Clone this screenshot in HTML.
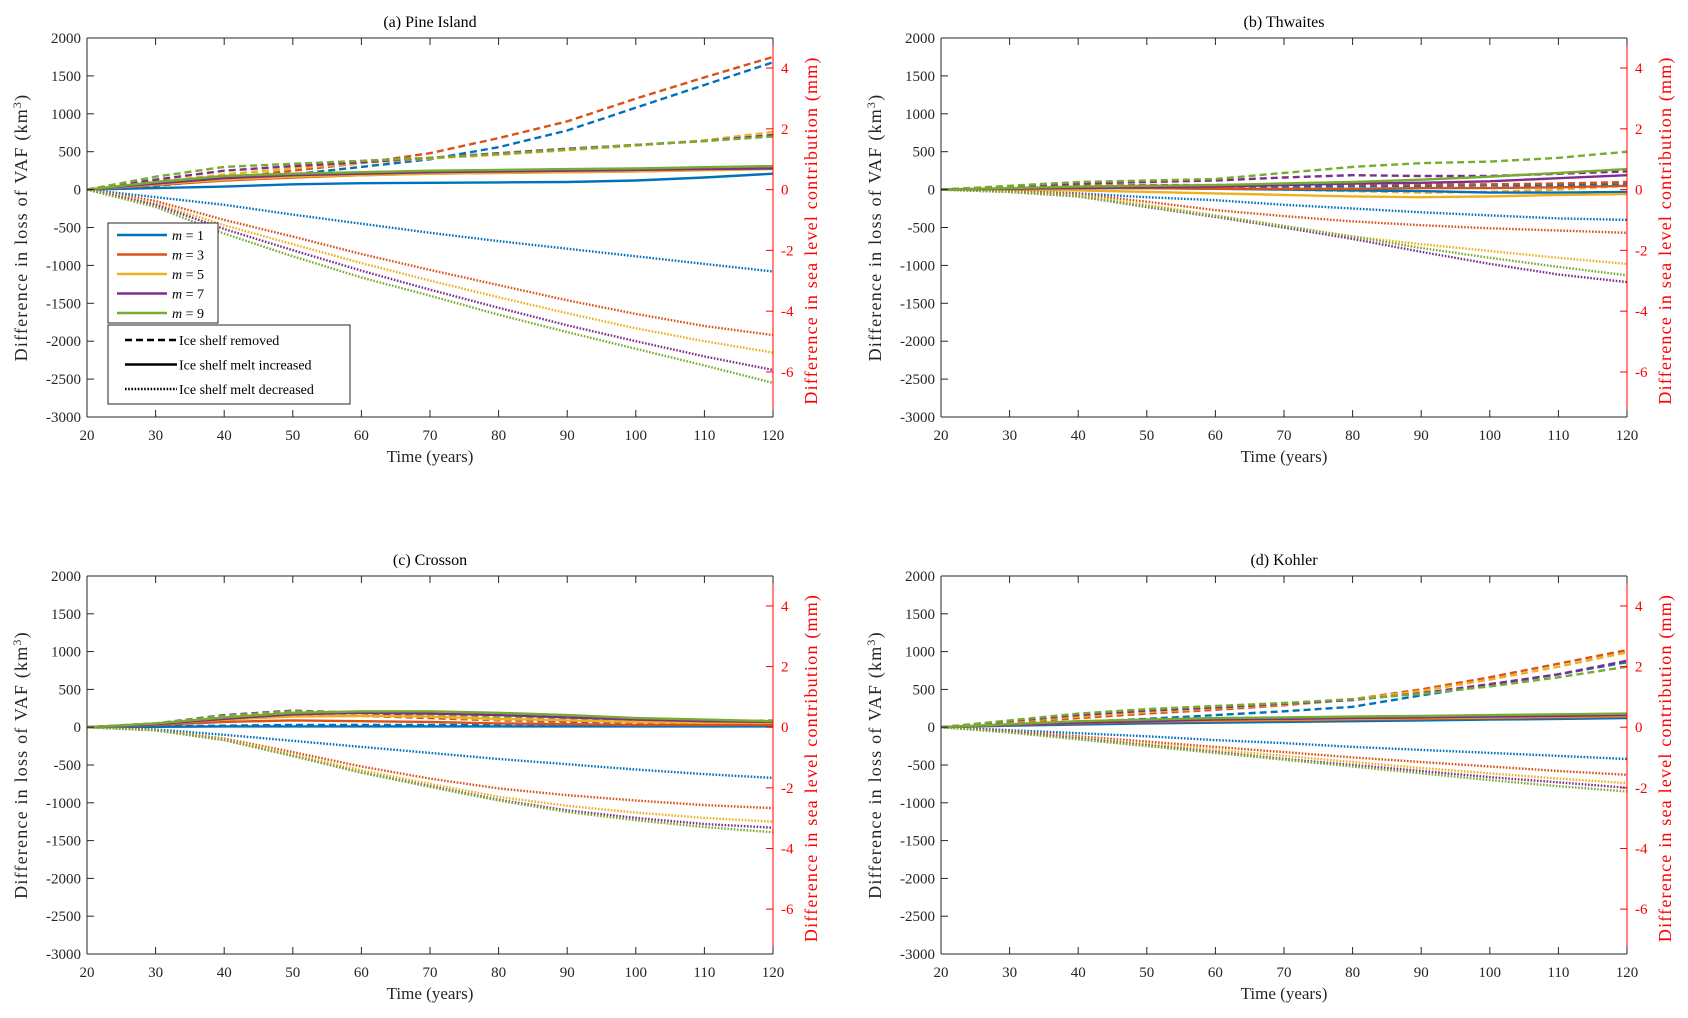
<!DOCTYPE html>
<html><head><meta charset="utf-8"><style>
body{margin:0;background:#fff;}
svg{display:block;font-family:"Liberation Serif",serif;}
</style></head><body>
<svg id="fig" width="1688" height="1018" viewBox="0 0 1688 1018" xmlns="http://www.w3.org/2000/svg"></svg>
<script>
const times=[20,30,40,50,60,70,80,90,100,110,120];
const mLabels=["m = 1","m = 3","m = 5","m = 7","m = 9"];
const xTicks=[20,30,40,50,60,70,80,90,100,110,120];
const yTicks=[-3000,-2500,-2000,-1500,-1000,-500,0,500,1000,1500,2000];
const rTicks=[-6,-4,-2,0,2,4];
const panelTitles=["(a) Pine Island","(b) Thwaites","(c) Crosson","(d) Kohler"];
// Pine Island
const pineRemoved=[[0,50,130,200,300,400,560,780,1080,1380,1680],[0,60,150,250,350,480,680,900,1200,1480,1750],[0,100,200,280,350,410,460,520,580,650,760],[0,130,250,310,360,420,480,540,590,640,720],[0,170,300,340,380,420,470,530,590,640,700]];
const pineIncreased=[[0,20,40,70,85,90,95,100,120,160,210],[0,60,120,160,190,210,220,230,240,260,280],[0,70,130,170,190,210,220,230,240,255,270],[0,80,150,190,210,230,240,250,260,270,280],[0,100,180,210,230,250,260,270,280,295,310]];
const pineDecreased=[[0,-100,-200,-330,-450,-570,-680,-780,-880,-980,-1080],[0,-150,-400,-620,-850,-1060,-1260,-1460,-1640,-1800,-1920],[0,-180,-470,-720,-970,-1200,-1420,-1630,-1830,-2000,-2150],[0,-200,-520,-800,-1070,-1320,-1560,-1790,-2000,-2200,-2380],[0,-230,-580,-880,-1160,-1400,-1650,-1880,-2100,-2320,-2550]];
// Thwaites
const thwRemoved=[[0,20,30,30,35,40,45,50,55,60,70],[0,30,50,60,60,70,70,70,70,80,100],[0,20,30,30,20,0,-20,-40,-30,0,50],[0,40,80,100,120,160,190,180,180,210,240],[0,50,100,120,140,220,300,350,370,420,500]];
const thwIncreased=[[0,10,20,20,10,0,-10,-20,-40,-40,-30],[0,10,20,20,10,10,10,20,20,30,50],[0,0,-10,-30,-50,-70,-90,-100,-90,-70,-60],[0,10,20,30,40,60,80,90,110,150,190],[0,20,40,50,60,80,100,130,170,220,270]];
const thwDecreased=[[0,-20,-50,-100,-140,-200,-250,-300,-340,-380,-400],[0,-20,-60,-160,-270,-350,-420,-470,-510,-540,-570],[0,-30,-80,-200,-340,-480,-620,-720,-810,-900,-980],[0,-30,-90,-230,-360,-500,-650,-820,-980,-1120,-1220],[0,-30,-90,-220,-350,-480,-620,-770,-900,-1020,-1130]];
// Crosson
const croRemoved=[[0,10,20,30,30,30,30,30,30,30,30],[0,30,100,150,150,120,90,70,60,60,60],[0,40,130,190,180,140,100,80,70,70,70],[0,50,160,220,190,150,110,80,70,70,80],[0,50,150,210,200,170,130,100,80,70,90]];
const croIncreased=[[0,5,10,10,10,10,10,10,10,10,10],[0,30,70,90,80,70,50,40,30,30,30],[0,40,100,140,150,140,110,90,70,60,60],[0,40,110,170,190,180,160,130,100,80,70],[0,50,130,190,210,210,190,160,120,100,80]];
const croDecreased=[[0,-30,-100,-180,-260,-340,-420,-490,-560,-620,-670],[0,-40,-150,-330,-520,-680,-810,-900,-970,-1030,-1070],[0,-40,-160,-360,-570,-750,-920,-1040,-1130,-1200,-1250],[0,-40,-170,-380,-600,-780,-960,-1100,-1200,-1280,-1330],[0,-40,-170,-380,-600,-790,-970,-1120,-1230,-1320,-1390]];
// Kohler
const kohRemoved=[[0,30,70,110,160,210,270,420,560,700,860],[0,60,120,180,230,290,370,500,660,840,1020],[0,70,140,200,250,300,370,480,630,800,990],[0,80,160,220,260,310,360,450,570,700,880],[0,90,180,240,280,320,370,440,540,660,800]];
const kohIncreased=[[0,20,35,50,60,70,80,90,100,110,120],[0,30,50,70,80,90,100,110,120,130,140],[0,30,60,80,90,100,110,120,130,140,150],[0,30,60,80,100,110,120,130,140,150,160],[0,40,80,100,120,130,140,150,160,170,180]];
const kohDecreased=[[0,-40,-80,-120,-170,-210,-260,-300,-340,-380,-420],[0,-50,-120,-190,-260,-330,-400,-460,-520,-580,-630],[0,-60,-140,-220,-300,-380,-460,-540,-610,-680,-740],[0,-60,-150,-240,-330,-420,-500,-580,-660,-730,-800],[0,-70,-160,-250,-340,-430,-520,-610,-700,-780,-850]];

const colors=["#0072BD","#D95319","#EDB120","#7E2F8E","#77AC30"];
const NS="http://www.w3.org/2000/svg";
const svg=document.getElementById('fig');
function mk(tag,attrs,parent){const e=document.createElementNS(NS,tag);for(const k in attrs)e.setAttribute(k,attrs[k]);(parent||svg).appendChild(e);return e;}
function txt(s,attrs,parent){const e=mk('text',attrs,parent);e.textContent=s;return e;}
const KM_PER_MM=401;
const panels=[
 {x0:87,x1:773,y0:38,y1:417,data:[pineRemoved,pineIncreased,pineDecreased],legend:true,slug:'pine-island'},
 {x0:941,x1:1627,y0:38,y1:417,data:[thwRemoved,thwIncreased,thwDecreased],slug:'thwaites'},
 {x0:87,x1:773,y0:576,y1:954,data:[croRemoved,croIncreased,croDecreased],slug:'crosson'},
 {x0:941,x1:1627,y0:576,y1:954,data:[kohRemoved,kohIncreased,kohDecreased],slug:'kohler'}];
const dashes=["7,4","","1.6,1.6"];
const scen=["removed","increased","decreased"];
panels.forEach((p,pi)=>{
 const g=mk('g',{});
 
 
 const X=t=>p.x0+(t-20)/100*(p.x1-p.x0);
 const Y=v=>p.y1-(v+3000)/5000*(p.y1-p.y0);
 const YR=mm=>Y(mm*KM_PER_MM);
 p.data.forEach((set,si)=>{
  set.forEach((vals,mi)=>{
   const pts=vals.map((v,i)=>X(times[i]).toFixed(1)+','+Y(v).toFixed(1)).join(' ');
   const l=mk('polyline',{points:pts,fill:'none',stroke:colors[mi],'stroke-width':2.4,'stroke-dasharray':dashes[si]},g);
   
   
  });
 });
 mk('line',{x1:p.x0,y1:p.y0,x2:p.x1,y2:p.y0,stroke:'#262626','stroke-width':1},g);
 mk('line',{x1:p.x0,y1:p.y1,x2:p.x1,y2:p.y1,stroke:'#262626','stroke-width':1},g);
 mk('line',{x1:p.x0,y1:p.y0,x2:p.x0,y2:p.y1,stroke:'#262626','stroke-width':1},g);
 mk('line',{x1:p.x1,y1:p.y0,x2:p.x1,y2:p.y1,stroke:'#ff0000','stroke-width':1},g);
 xTicks.forEach(t=>{
  const x=X(t);
  mk('line',{x1:x,y1:p.y1,x2:x,y2:p.y1-7,stroke:'#262626'},g);
  mk('line',{x1:x,y1:p.y0,x2:x,y2:p.y0+7,stroke:'#262626'},g);
  const e=txt(String(t),{x:x,y:p.y1+23,'text-anchor':'middle','font-size':15,fill:'#262626'},g);
  
 });
 yTicks.forEach(v=>{
  const y=Y(v);
  mk('line',{x1:p.x0,y1:y,x2:p.x0+7,y2:y,stroke:'#262626'},g);
  const e=txt(String(v),{x:p.x0-6,y:y+5,'text-anchor':'end','font-size':15,fill:'#262626'},g);
  
 });
 rTicks.forEach(v=>{
  const y=YR(v);
  mk('line',{x1:p.x1,y1:y,x2:p.x1-7,y2:y,stroke:'#ff0000'},g);
  const e=txt(String(v),{x:p.x1+8,y:y+5,'font-size':15,fill:'#ff0000'},g);
  
 });
 const cx=(p.x0+p.x1)/2;
 let e=txt(panelTitles[pi],{x:cx,y:p.y0-11,'text-anchor':'middle','font-size':16,fill:'#000'},g);
 
 e=txt('Time (years)',{x:cx,y:p.y1+45,'text-anchor':'middle','font-size':17,fill:'#262626'},g);
 
 const cy=(p.y0+p.y1)/2;
 e=mk('text',{x:0,y:0,transform:`translate(${p.x0-60},${cy}) rotate(-90)`,'text-anchor':'middle','font-size':18,'letter-spacing':1.2,fill:'#262626'},g);
 e.innerHTML='Difference in loss of VAF (km<tspan dy="-6" font-size="12">3</tspan><tspan dy="6">)</tspan>';
 
 e=txt('Difference in sea level contribution (mm)',{x:0,y:0,transform:`translate(${p.x1+44},${cy+3}) rotate(-90)`,'text-anchor':'middle','font-size':18,'letter-spacing':1.2,fill:'#ff0000'},g);
 
 if(p.legend){
  const lg=mk('g',{},g);
  
  mk('rect',{x:108,y:223,width:110,height:100,fill:'#fff',stroke:'#262626'},lg);
  mLabels.forEach((s,i)=>{
   const y=235+i*19.5;
   mk('line',{x1:117,y1:y,x2:167,y2:y,stroke:colors[i],'stroke-width':2.4},lg);
   const t=mk('text',{x:172,y:y+5,'font-size':14,fill:'#000'},lg);
   t.innerHTML='<tspan font-style="italic">m</tspan> = '+(2*i+1);
   
  });
  const lg2=mk('g',{},g);
  
  mk('rect',{x:108,y:325,width:242,height:79,fill:'#fff',stroke:'#262626'},lg2);
  ["Ice shelf removed","Ice shelf melt increased","Ice shelf melt decreased"].forEach((s,i)=>{
   const y=340+i*24.5;
   mk('line',{x1:125,y1:y,x2:177,y2:y,stroke:'#000','stroke-width':2.4,'stroke-dasharray':dashes[i]},lg2);
   const t=txt(s,{x:179,y:y+5,'font-size':14,fill:'#000'},lg2);
   
  });
 }
});
</script>
</body></html>
